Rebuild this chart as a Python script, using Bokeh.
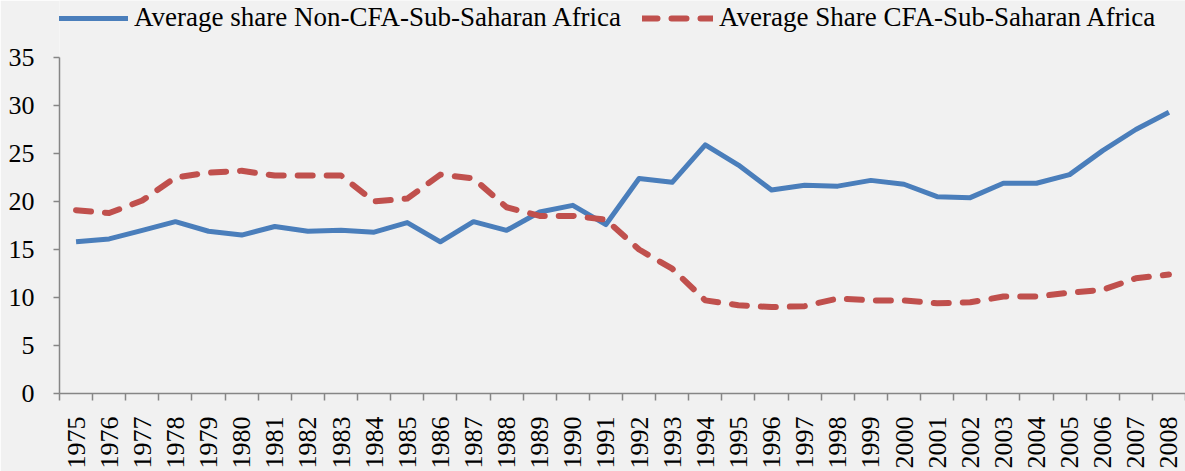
import math
from bokeh.plotting import figure
from bokeh.models import Range1d, FixedTicker, Legend, LegendItem
from bokeh.embed import file_html
from bokeh.resources import INLINE

years = list(range(1975, 2009))
non_cfa = [15.8, 16.1, 17.0, 17.9, 16.9, 16.5, 17.4, 16.9, 17.0, 16.8,
           17.8, 15.8, 17.9, 17.0, 18.9, 19.6, 17.6, 22.4, 22.0, 25.9,
           23.8, 21.2, 21.7, 21.6, 22.2, 21.8, 20.5, 20.4, 21.9, 21.9,
           22.8, 25.3, 27.5, 29.3]
cfa = [19.1, 18.8, 20.1, 22.5, 23.0, 23.2, 22.7, 22.7, 22.7, 20.0,
       20.3, 22.8, 22.4, 19.4, 18.5, 18.5, 18.1, 15.0, 13.0, 9.7,
       9.2, 9.0, 9.1, 9.9, 9.7, 9.7, 9.4, 9.5, 10.1, 10.1,
       10.5, 10.8, 12.0, 12.4]
y_ticks = [0, 5, 10, 15, 20, 25, 30, 35]
labels = ["Average share Non-CFA-Sub-Saharan Africa",
          "Average Share CFA-Sub-Saharan Africa"]

BG = "#F1F1F1"
BLUE = "#4A7EBB"
RED = "#C0504D"
AXIS = "#868686"
FONT = "Liberation Serif"

# frame: 393 px tall, 35 sits 57 px below the frame top -> headroom for legend
FRAME_H = 393
PX_PER_UNIT = (FRAME_H - 57) / 35.0
y_top = FRAME_H / PX_PER_UNIT

p = figure(width=1185, height=471, output_backend="svg", toolbar_location=None,
           x_range=Range1d(years[0] - 0.5, years[-1] + 0.5),
           y_range=Range1d(0, y_top),
           min_border_left=59, min_border_right=0,
           min_border_top=0, min_border_bottom=78)
p.background_fill_color = BG
p.border_fill_color = BG
p.outline_line_color = None
p.grid.visible = False

r1 = p.line(years, non_cfa, line_color=BLUE, line_width=5, line_join="round")
r2 = p.line(years, cfa, line_color=RED, line_width=6, line_dash="15 14",
            line_cap="round", line_join="round")

legend = Legend(items=[LegendItem(label=labels[0], renderers=[r1]),
                       LegendItem(label=labels[1], renderers=[r2])],
                orientation="horizontal", location=(-2, 360),
                glyph_width=71, glyph_height=20, label_height=20,
                label_standoff=6, spacing=21, padding=0, margin=0,
                border_line_color=None, background_fill_alpha=0,
                label_text_font=FONT, label_text_font_size="27px",
                label_text_color="black")
p.add_layout(legend, "center")

xa = p.xaxis[0]
xa.ticker = FixedTicker(ticks=years, minor_ticks=[y - 0.5 for y in years] + [years[-1] + 0.5])
xa.major_label_overrides = {y: str(y) for y in years}
xa.major_tick_out = 0
xa.major_tick_in = 0
xa.minor_tick_out = 7
xa.minor_tick_in = 0
xa.minor_tick_line_color = AXIS
xa.minor_tick_line_width = 1.5
xa.axis_line_color = AXIS
xa.axis_line_width = 1.5
xa.major_label_orientation = math.pi / 2
xa.major_label_standoff = 16
xa.major_label_text_font = FONT
xa.major_label_text_font_size = "26px"
xa.major_label_text_color = "black"

ya = p.yaxis[0]
ya.bounds = (0, 35)
ya.ticker = FixedTicker(ticks=y_ticks, minor_ticks=[])
ya.major_tick_out = 6
ya.major_tick_in = 0
ya.major_tick_line_color = AXIS
ya.major_tick_line_width = 1.5
ya.minor_tick_line_color = None
ya.axis_line_color = AXIS
ya.axis_line_width = 1.5
ya.major_label_standoff = 19
ya.major_label_text_font = FONT
ya.major_label_text_font_size = "26px"
ya.major_label_text_color = "black"

html = file_html(p, INLINE)
html = html.replace("<body>", '<body style="background:%s">' % BG, 1)
open("out.html", "w").write(html)
